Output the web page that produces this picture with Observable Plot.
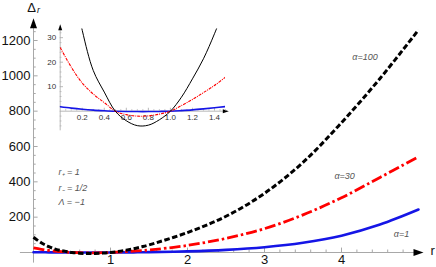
<!DOCTYPE html>
<html>
<head>
<meta charset="utf-8">
<script src="https://cdn.jsdelivr.net/npm/d3@7"></script>
<script src="https://cdn.jsdelivr.net/npm/@observablehq/plot@0.6"></script>
<style>
  html, body { margin: 0; padding: 0; background: #fff; }
  #wrap { position: relative; width: 436px; height: 267px; }
  #wrap svg { position: absolute; left: 0; top: 0; }
</style>
</head>
<body>
<div id="wrap"></div>
<script>
// ---- data ----
const r = [0, 0.1, 0.2, 0.3, 0.4, 0.5, 0.6, 0.7, 0.8, 0.9, 1, 1.1, 1.2, 1.3, 1.4, 1.5, 2, 2.5, 3, 3.5, 4, 4.5, 5];
const alpha1   = [1.8, 1.25, 0.8, 0.45, 0.2, 0, -0.1, -0.15, -0.15, -0.1, 0, 0.25, 0.55, 0.95, 1.4, 1.9, 6.5, 15, 30, 55, 95, 158, 243];
const alpha30  = [26, 18, 11.5, 7, 3.5, 0, -1.4, -2, -1.9, -1.2, 0, 2.3, 4.8, 7.6, 10.5, 13.9, 40, 80, 135, 213, 310, 425, 542];
const alpha100 = [86, 55, 33, 16.6, 7.8, 0, -3.9, -5.9, -5.7, -3.5, 0, 5.7, 13.2, 21.4, 31.6, 43, 113, 205, 335, 510, 735, 985, 1260];

const xTicks = [1, 2, 3, 4];
const yTicks = [200, 400, 600, 800, 1000, 1200];
const insetXTicks = [0.2, 0.4, 0.6, 0.8, 1.0, 1.2, 1.4];
const insetYTicks = [10, 20, 30];

const seriesNames = ["α=1", "α=30", "α=100"];
const seriesValues = [alpha1, alpha30, alpha100];

const rows = seriesNames.flatMap((s, k) => r.map((x, i) => ({r: x, v: seriesValues[k][i], s})));
const rowsOf = s => rows.filter(d => d.s === s);
const insetRowsOf = s => rows.filter(d => d.s === s && d.r <= 1.5);

const axisColor = "#a8a8a8";
const font = "Liberation Sans, Arial, sans-serif";

// arrowhead symbols (tip at origin)
const arrowRight = (len, hw) => ({draw(ctx) { ctx.moveTo(0, 0); ctx.lineTo(-len, -hw); ctx.lineTo(-len, hw); ctx.closePath(); }});
const arrowUp = (len, hw) => ({draw(ctx) { ctx.moveTo(0, 0); ctx.lineTo(-hw, len); ctx.lineTo(hw, len); ctx.closePath(); }});

// ---- main chart ----
const xMinor = d3.range(0.2, 5.01, 0.2).filter(v => Math.abs(v - Math.round(v)) > 1e-6);
const yMinor = d3.range(50, 1300, 50).filter(v => v % 200 !== 0);

const main = Plot.plot({
  width: 436, height: 267,
  marginLeft: 33, marginRight: 18, marginTop: 18.8, marginBottom: 4.4,
  x: {domain: [0, 5], axis: null},
  y: {domain: [-60, 1320], axis: null},
  style: {background: "transparent", fontFamily: font, overflow: "visible"},
  marks: [
    // axes
    Plot.ruleY([0], {x1: -0.17, x2: 4.95, stroke: axisColor, strokeWidth: 1}),
    Plot.ruleX([0], {y1: -60, y2: 1290, stroke: axisColor, strokeWidth: 1}),
    Plot.dot([{x: 5.065, y: 0}], {x: "x", y: "y", symbol: arrowRight(10, 3.5), fill: "#000", stroke: null, r: 1}),
    Plot.dot([{x: 0, y: 1326}], {x: "x", y: "y", symbol: arrowUp(10, 3.5), fill: "#000", stroke: null, r: 1}),
    Plot.ruleX(xTicks, {x: d => d, y1: 0, y2: 25, stroke: axisColor}),
    Plot.ruleX(xMinor, {x: d => d, y1: 0, y2: 14, stroke: axisColor}),
    Plot.ruleY(yTicks, {y: d => d, x1: 0, x2: 0.06, stroke: axisColor}),
    Plot.ruleY(yMinor, {y: d => d, x1: 0, x2: 0.035, stroke: axisColor}),
    Plot.text(xTicks, {x: d => d, y: 0, text: d => String(d), dy: 2, lineAnchor: "top", fontSize: 13, fill: "#111"}),
    Plot.text(yTicks, {x: 0, y: d => d, text: d => String(d), dx: -3, textAnchor: "end", fontSize: 13, fill: "#111"}),
    Plot.text(["r"], {x: 5.185, y: 0, text: d => d, dy: -2, fontSize: 13, fill: "#111"}),
    Plot.text(["Δ"], {x: 0, y: 1385, text: d => d, dx: -2, fontSize: 13, fill: "#111"}),
    Plot.text(["r"], {x: 0, y: 1370, text: d => d, dx: 5, fontSize: 9, fontStyle: "italic", fill: "#111"}),
    // curves
    Plot.line(rowsOf("α=1"), {x: "r", y: "v", stroke: "#1515e6", strokeWidth: 2.6, curve: "catmull-rom"}),
    Plot.line(rowsOf("α=30"), {x: "r", y: "v", stroke: "#ff0000", strokeWidth: 2.8, strokeDasharray: "11,3,2.5,3", strokeLinecap: "butt", curve: "catmull-rom"}),
    Plot.line(rowsOf("α=100"), {x: "r", y: "v", stroke: "#000", strokeWidth: 3, strokeDasharray: "5.5,2.5", strokeLinecap: "butt", curve: "catmull-rom"}),
    // annotations
    Plot.text(["α=100"], {x: 4.305, y: 1104, text: d => d, fontSize: 9, fontStyle: "italic", fill: "#555"}),
    Plot.text(["α=30"], {x: 4.04, y: 430, text: d => d, fontSize: 9, fontStyle: "italic", fill: "#555"}),
    Plot.text(["α=1"], {x: 4.78, y: 102, text: d => d, fontSize: 9, fontStyle: "italic", fill: "#555"}),
    Plot.text(["r₊ = 1", "r₋ = 1/2", "Λ = −1"], {x: 0.325, y: (d, i) => [453, 362, 283][i], text: d => d, textAnchor: "start", fontSize: 9, fontStyle: "italic", fill: "#555"})
  ]
});

// ---- inset ----
const ixMinor = d3.range(0.05, 1.51, 0.05).filter(v => Math.abs(v * 5 - Math.round(v * 5)) > 1e-6);
const iyMinor = d3.range(-6, 34, 2).filter(v => v % 10 !== 0);

const inset = Plot.plot({
  width: 436, height: 267,
  marginLeft: 59.7, marginRight: 211, marginTop: 28.6, marginBottom: 136.7,
  x: {domain: [0, 1.5], axis: null},
  y: {domain: [-8, 33.5], axis: null},
  style: {background: "transparent", fontFamily: font, overflow: "visible"},
  marks: [
    Plot.ruleY([0], {x1: 0, x2: 1.49, stroke: axisColor, strokeWidth: 0.8}),
    Plot.ruleX([0], {y1: -8, y2: 33, stroke: axisColor, strokeWidth: 0.8}),
    Plot.dot([{x: 1.53, y: 0}], {x: "x", y: "y", symbol: arrowRight(6, 2), fill: "#000", stroke: null, r: 1}),
    Plot.dot([{x: 0, y: 35.5}], {x: "x", y: "y", symbol: arrowUp(6, 2), fill: "#000", stroke: null, r: 1}),
    Plot.ruleX(insetXTicks, {x: d => d, y1: 0, y2: 1.2, stroke: axisColor, strokeWidth: 0.8}),
    Plot.ruleX(ixMinor, {x: d => d, y1: 0, y2: 0.7, stroke: axisColor, strokeWidth: 0.6}),
    Plot.ruleY(insetYTicks, {y: d => d, x1: 0, x2: 0.03, stroke: axisColor, strokeWidth: 0.8}),
    Plot.ruleY(iyMinor, {y: d => d, x1: 0, x2: 0.017, stroke: axisColor, strokeWidth: 0.6}),
    Plot.text(insetXTicks, {x: d => d, y: 0, text: d => d.toFixed(1), dy: 3, lineAnchor: "top", fontSize: 8, fill: "#333"}),
    Plot.text(insetYTicks, {x: 0, y: d => d, text: d => String(d), dx: -4, textAnchor: "end", fontSize: 8, fill: "#333"}),
    Plot.line(insetRowsOf("α=1"), {x: "r", y: "v", stroke: "#1515e6", strokeWidth: 1.6, curve: "catmull-rom", clip: true}),
    Plot.line(insetRowsOf("α=30"), {x: "r", y: "v", stroke: "#ff0000", strokeWidth: 1.1, strokeDasharray: "3,1,1,1", strokeLinecap: "butt", curve: "catmull-rom", clip: true}),
    Plot.line(insetRowsOf("α=100"), {x: "r", y: "v", stroke: "#000", strokeWidth: 1, curve: "catmull-rom", clip: true})
  ]
});

const wrap = document.getElementById("wrap");
wrap.appendChild(main);
wrap.appendChild(inset);
</script>
</body>
</html>
